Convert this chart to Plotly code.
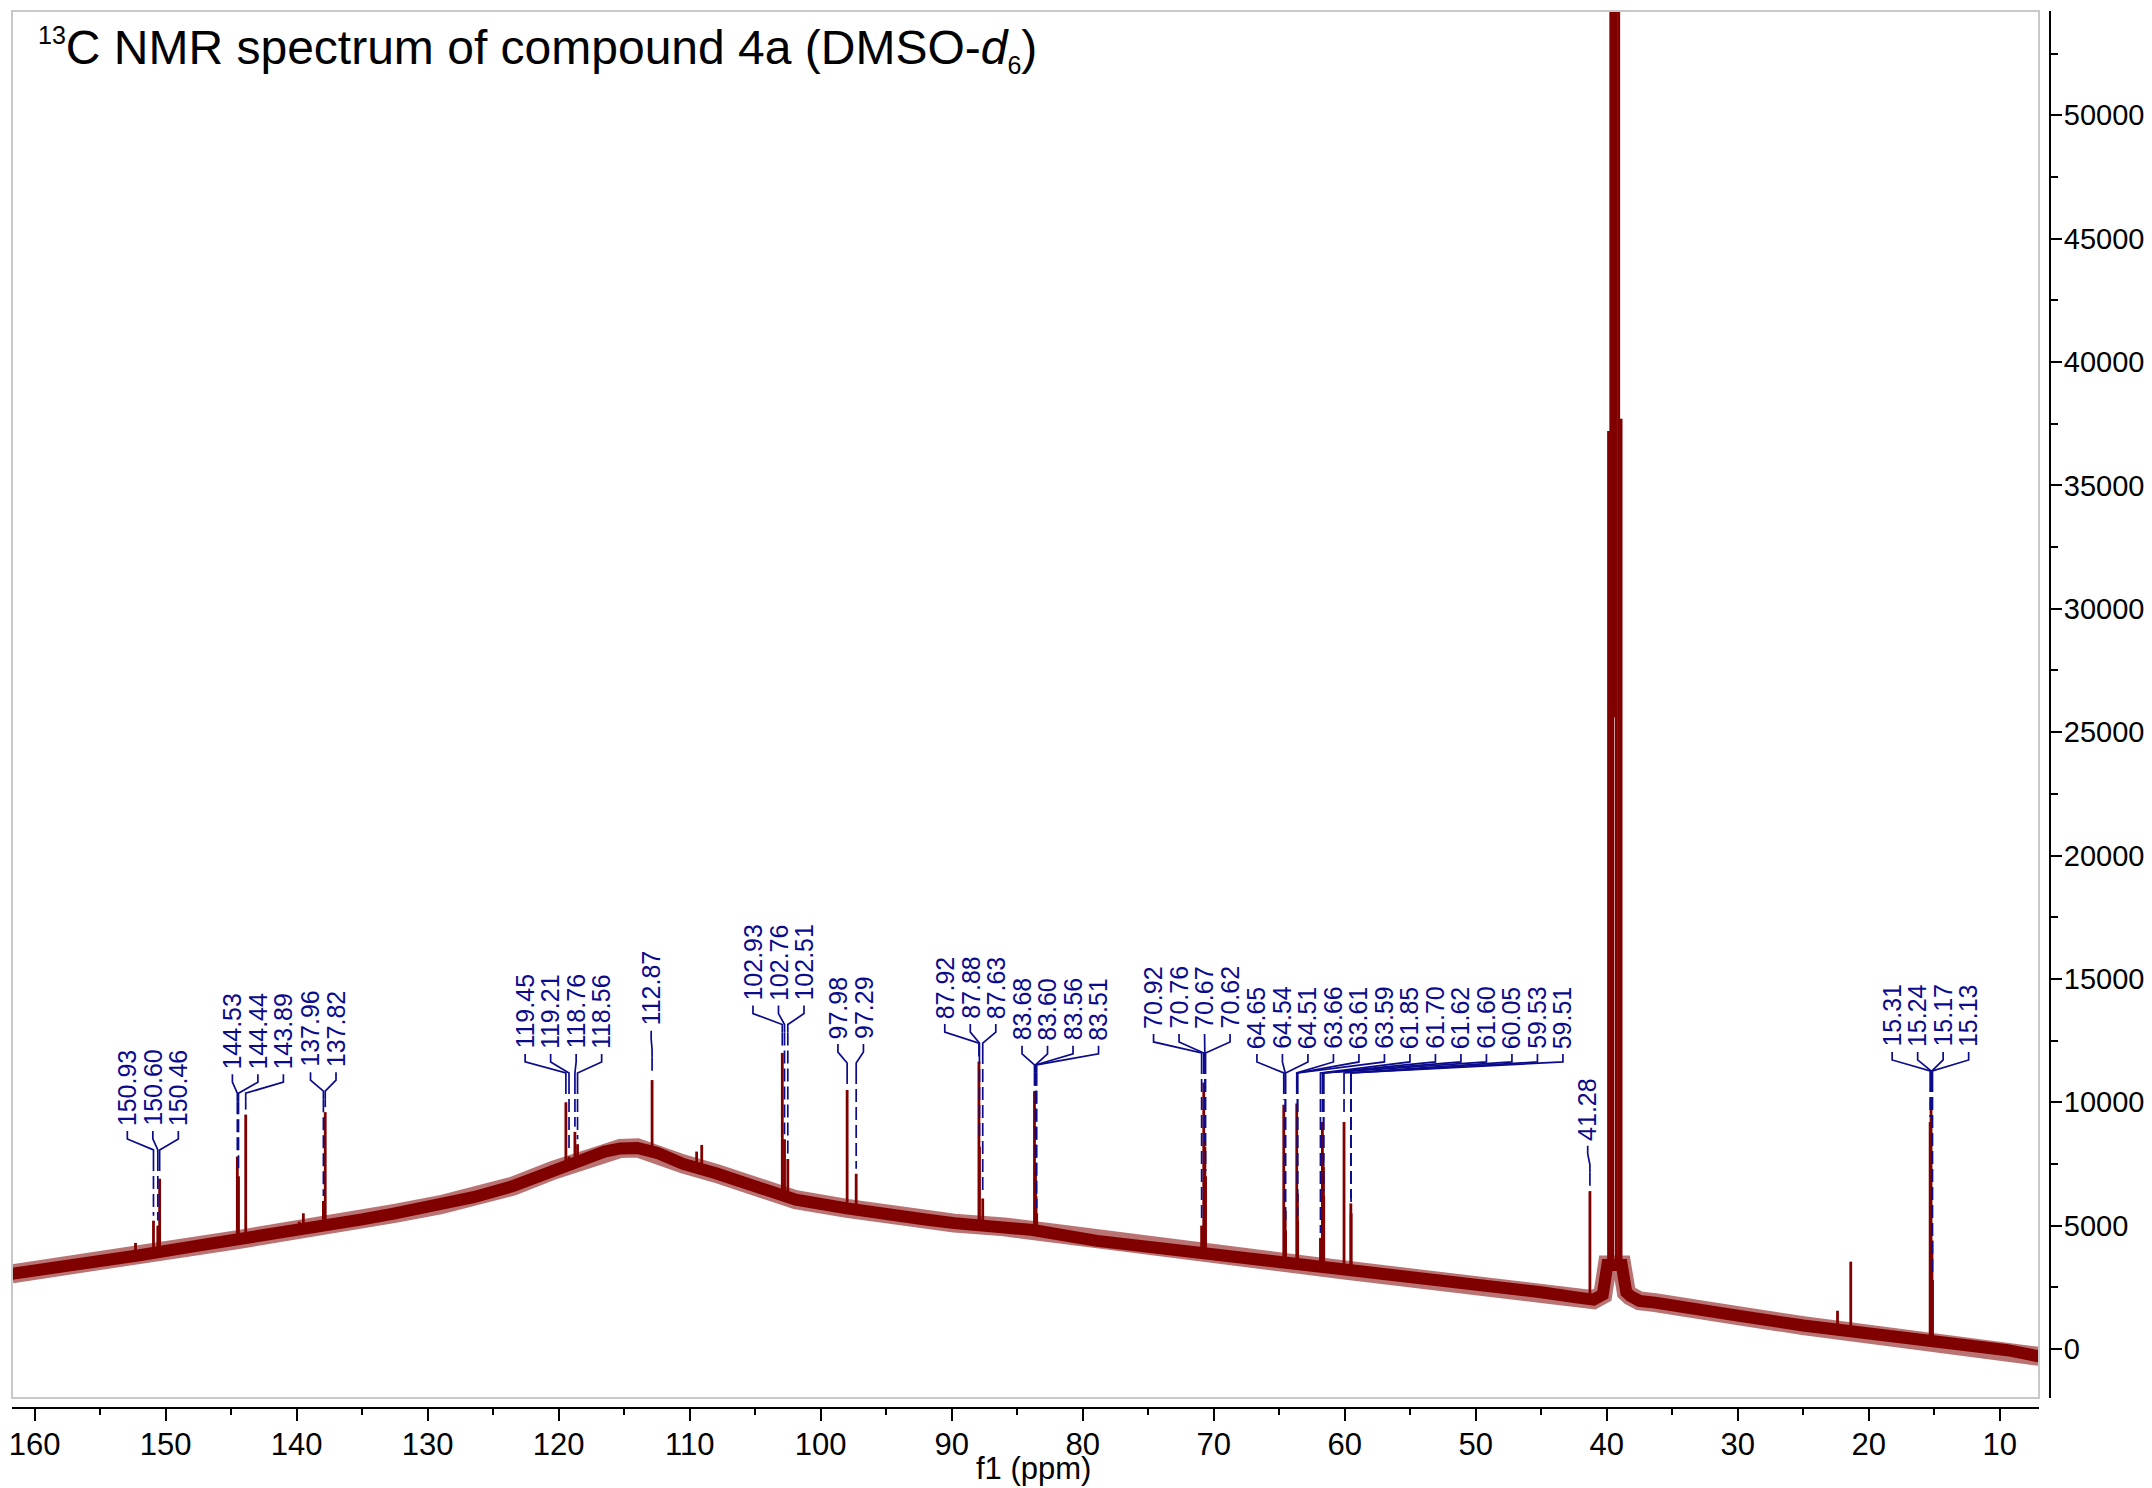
import numpy as np
import plotly.graph_objects as go

# ---------------- data ----------------
# baseline (centre of the noise band), ppm descending
base_ppm = [161.73, 156.6, 152.0, 148.0, 144.6, 141.0, 138.5, 135.0, 132.5, 129.0,
            126.5, 123.5, 120.4, 118.0, 116.5, 115.3, 114.0, 112.5, 110.5, 108.0,
            105.0, 101.9, 98.0, 95.9, 92.0, 89.8, 86.0, 83.8, 78.9, 75.0,
            70.5, 67.0, 63.0, 60.0, 55.3, 50.0, 45.0, 42.2, 41.0, 40.3,
            40.05, 39.95, 38.85, 38.75, 38.5, 38.2, 37.5, 36.3, 33.0,
            30.0, 25.0, 20.0, 16.5, 13.0, 9.4, 7.0]
base_int = [3050, 3400, 3800, 4150, 4420, 4700, 4960, 5250, 5500, 5850,
            6150, 6600, 7250, 7700, 8000, 8130, 8150, 7950, 7500, 7120,
            6600, 6050, 5700, 5500, 5250, 5100, 4950, 4820, 4380, 4150,
            3900, 3680, 3400, 3200, 2930, 2620, 2300, 2080, 2000, 2200,
            2900, 3400, 3400, 2700, 2300, 2150, 1950, 1880, 1550,
            1350, 950, 650, 450, 250, -50, -300]

# labelled peaks (ppm, peak-top intensity)
g150_ppm = [150.93, 150.60, 150.46]
g150_int = [5200, 5000, 6900]
g144_ppm = [144.53, 144.44, 143.89]
g144_int = [7800, 7000, 9500]
g137_ppm = [137.96, 137.82]
g137_int = [6000, 9600]
g119_ppm = [119.45, 119.21, 118.76, 118.56]
g119_int = [10000, 7800, 8800, 8300]
g112_ppm = [112.87]
g112_int = [10900]
g102_ppm = [102.93, 102.76, 102.51]
g102_int = [12000, 8500, 7700]
g97_ppm = [97.98, 97.29]
g97_int = [10500, 7100]
g87_ppm = [87.92, 87.88, 87.63]
g87_int = [11650, 8200, 6100]
g83_ppm = [83.68, 83.60, 83.56, 83.51]
g83_int = [10450, 7400, 6200, 5500]
g70_ppm = [70.92, 70.76, 70.67, 70.62]
g70_int = [5000, 10800, 8200, 7000]
g64_ppm = [64.65, 64.54, 64.51, 63.66, 63.61, 63.59, 61.85, 61.70, 61.62, 61.60,
           60.05, 59.53, 59.51]
g64_int = [9900, 5600, 4800, 9950, 6300, 5200, 4500, 9200, 7400, 6200,
           9200, 5900, 5500]
g41_ppm = [41.28]
g41_int = [6400]
g15_ppm = [15.31, 15.24, 15.17, 15.13]
g15_int = [9200, 10100, 4400, 2800]

# unlabelled small peaks
extra_ppm = [152.3, 139.8, 139.49, 109.47, 109.08, 22.38, 21.37]
extra_int = [4300, 5160, 5500, 8000, 8270, 1550, 3540]

# DMSO-d6 solvent multiplet (off-scale lines)
dmso_ppm = [39.86, 39.69, 39.52, 39.26, 39.08, 38.90]
dmso_int = [37200, 90000, 90000, 90000, 90000, 37700]
dmso_bridge_ppm = [39.39]
dmso_bridge_from = [25600]

# ---------------- label layout (positions only) ----------------
# (peaks, intensities, label-fan centre in ppm, label bottom in intensity units)
groups = [
    (g150_ppm, g150_int, 150.98, 9000),
    (g144_ppm, g144_int, 142.96, 11300),
    (g137_ppm, g137_int, 137.97, 11380),
    (g119_ppm, g119_int, 119.64, 12120),
    (g112_ppm, g112_int, 112.94, 13060),
    (g102_ppm, g102_int, 103.22, 14080),
    (g97_ppm, g97_int, 97.71, 12520),
    (g87_ppm, g87_int, 88.58, 13330),
    (g83_ppm, g83_int, 81.71, 12450),
    (g70_ppm, g70_int, 71.67, 12930),
    (g64_ppm, g64_int, 55.02, 12120),
    (g41_ppm, g41_int, 41.45, 8400),
    (g15_ppm, g15_int, 15.29, 12200),
]

PX_PPM = 13.1          # pixels per ppm on screen
PX_INT = 1 / 0.024675  # intensity units per pixel
LABEL_STEP = 25.5 / PX_PPM

RED = "#800000"
NAVY = "#0b0b8c"
SANS = "Liberation Sans, Arial, sans-serif"

bp = np.array(base_ppm)[::-1]
bi = np.array(base_int)[::-1]


def foot(p):
    return float(np.interp(p, bp, bi))


fig = go.Figure()

# baseline / noise band (soft halo + core)
fig.add_trace(go.Scatter(x=base_ppm, y=base_int, mode="lines",
                         line=dict(color="rgba(128,0,0,0.55)", width=19), hoverinfo="skip"))
fig.add_trace(go.Scatter(x=base_ppm, y=base_int, mode="lines",
                         line=dict(color=RED, width=12), hoverinfo="skip"))

# peak sticks
sx, sy = [], []
all_ppm = []
all_int = []
for g in groups:
    all_ppm += g[0]
    all_int += g[1]
all_ppm += extra_ppm + dmso_ppm
all_int += extra_int + dmso_int
for p, t in zip(all_ppm, all_int):
    sx += [p, p, None]
    sy += [foot(p), t, None]
for p, f in zip(dmso_bridge_ppm, dmso_bridge_from):
    sx += [p, p, None]
    sy += [f, 90000, None]
fig.add_trace(go.Scatter(x=sx, y=sy, mode="lines", line=dict(color=RED, width=2.8),
                         hoverinfo="skip"))

# peak labels + connectors
cx, cy = [], []   # solid parts
dx, dy = [], []   # dashed parts
annotations = []
for peaks, tops, centre, ybase in groups:
    n = len(peaks)
    for k, (p, t) in enumerate(zip(peaks, tops)):
        lx = centre + ((n - 1) / 2 - k) * LABEL_STEP
        annotations.append(dict(
            x=lx, y=ybase, xref="x", yref="y", text=f"{p:.2f}", textangle=-90,
            showarrow=False, xanchor="center", yanchor="bottom", borderpad=0,
            font=dict(family=SANS, size=25, color=NAVY)))
        y0 = ybase - 4 * PX_INT
        y1 = y0 - 8 * PX_INT
        y2 = y1 - 11 * PX_INT
        y3 = y2 - 8 * PX_INT
        cx += [lx, lx, p, p, None]
        cy += [y0, y1, y2, y3, None]
        yt = t + 5 * PX_INT
        if yt < y3:
            dx += [p, p, None]
            dy += [y3, yt, None]

fig.add_trace(go.Scatter(x=cx, y=cy, mode="lines", line=dict(color=NAVY, width=1.7),
                         hoverinfo="skip"))
fig.add_trace(go.Scatter(x=dx, y=dy, mode="lines",
                         line=dict(color=NAVY, width=1.7, dash="13px,5px"),
                         hoverinfo="skip"))

# the page adds an 8 px body margin; figure coordinates = page coordinates - 8
OFF = 8
W, H = 2152 - OFF, 1488 - OFF
L, T = 12 - OFF, 11 - OFF
R = W - (2050 - OFF)
B = H - (1408 - OFF)
PW, PH = W - L - R, H - T - B


def px(xp):   # page x -> paper x
    return (xp - OFF - L) / PW


def py(yp):   # page y -> paper y
    return (H - B - (yp - OFF)) / PH


# title
annotations.append(dict(
    x=px(36), y=py(50), xref="paper", yref="paper",
    xanchor="left", yanchor="middle", showarrow=False,
    text=("<sup><span style='font-size:25px'>13</span></sup>C NMR spectrum of compound 4a "
          "(DMSO-<i>d</i><sub><span style='font-size:25px'>6</span></sub>)"),
    font=dict(family=SANS, size=48, color="black")))
# x-axis title
annotations.append(dict(
    x=px(1033), y=py(1468), xref="paper", yref="paper",
    xanchor="center", yanchor="middle", showarrow=False, text="f1 (ppm)",
    font=dict(family=SANS, size=31, color="black")))

fig.update_layout(
    width=W, height=H, margin=dict(l=L, r=R, t=T, b=B, pad=0, autoexpand=False),
    plot_bgcolor="white", paper_bgcolor="white", showlegend=False,
    annotations=annotations,
    shapes=[dict(type="rect", xref="x domain", yref="y domain", x0=0, x1=1, y0=0, y1=1,
                 line=dict(color="#c8c8c8", width=2), layer="above")],
    xaxis=dict(domain=[0, (2039 - 12) / PW], range=[161.73, 7.0], anchor="free", position=0,
               automargin=False,
               showline=True, linecolor="black", linewidth=2, ticks="outside", ticklen=12,
               tickwidth=2, tickcolor="black", tick0=0, dtick=10, showgrid=False,
               zeroline=False, ticklabelstandoff=-3,
               minor=dict(dtick=5, tick0=0, ticklen=6, tickwidth=2, tickcolor="black",
                          ticks="outside", showgrid=False),
               tickfont=dict(family=SANS, size=31, color="black")),
    yaxis=dict(domain=[(1408 - 1398) / PH, 1], range=[-1986, 54225], side="right",
               anchor="free", position=1, automargin=False,
               showline=True, linecolor="black", linewidth=2,
               ticks="outside", ticklen=11, tickwidth=2, tickcolor="black", tick0=0,
               dtick=5000, tickformat="d", showgrid=False, zeroline=False,
               ticklabelstandoff=-4,
               minor=dict(dtick=2500, tick0=0, ticklen=7, tickwidth=2, tickcolor="black",
                          ticks="outside", showgrid=False),
               tickfont=dict(family=SANS, size=29, color="black")),
)

fig.write_html("out.html")
